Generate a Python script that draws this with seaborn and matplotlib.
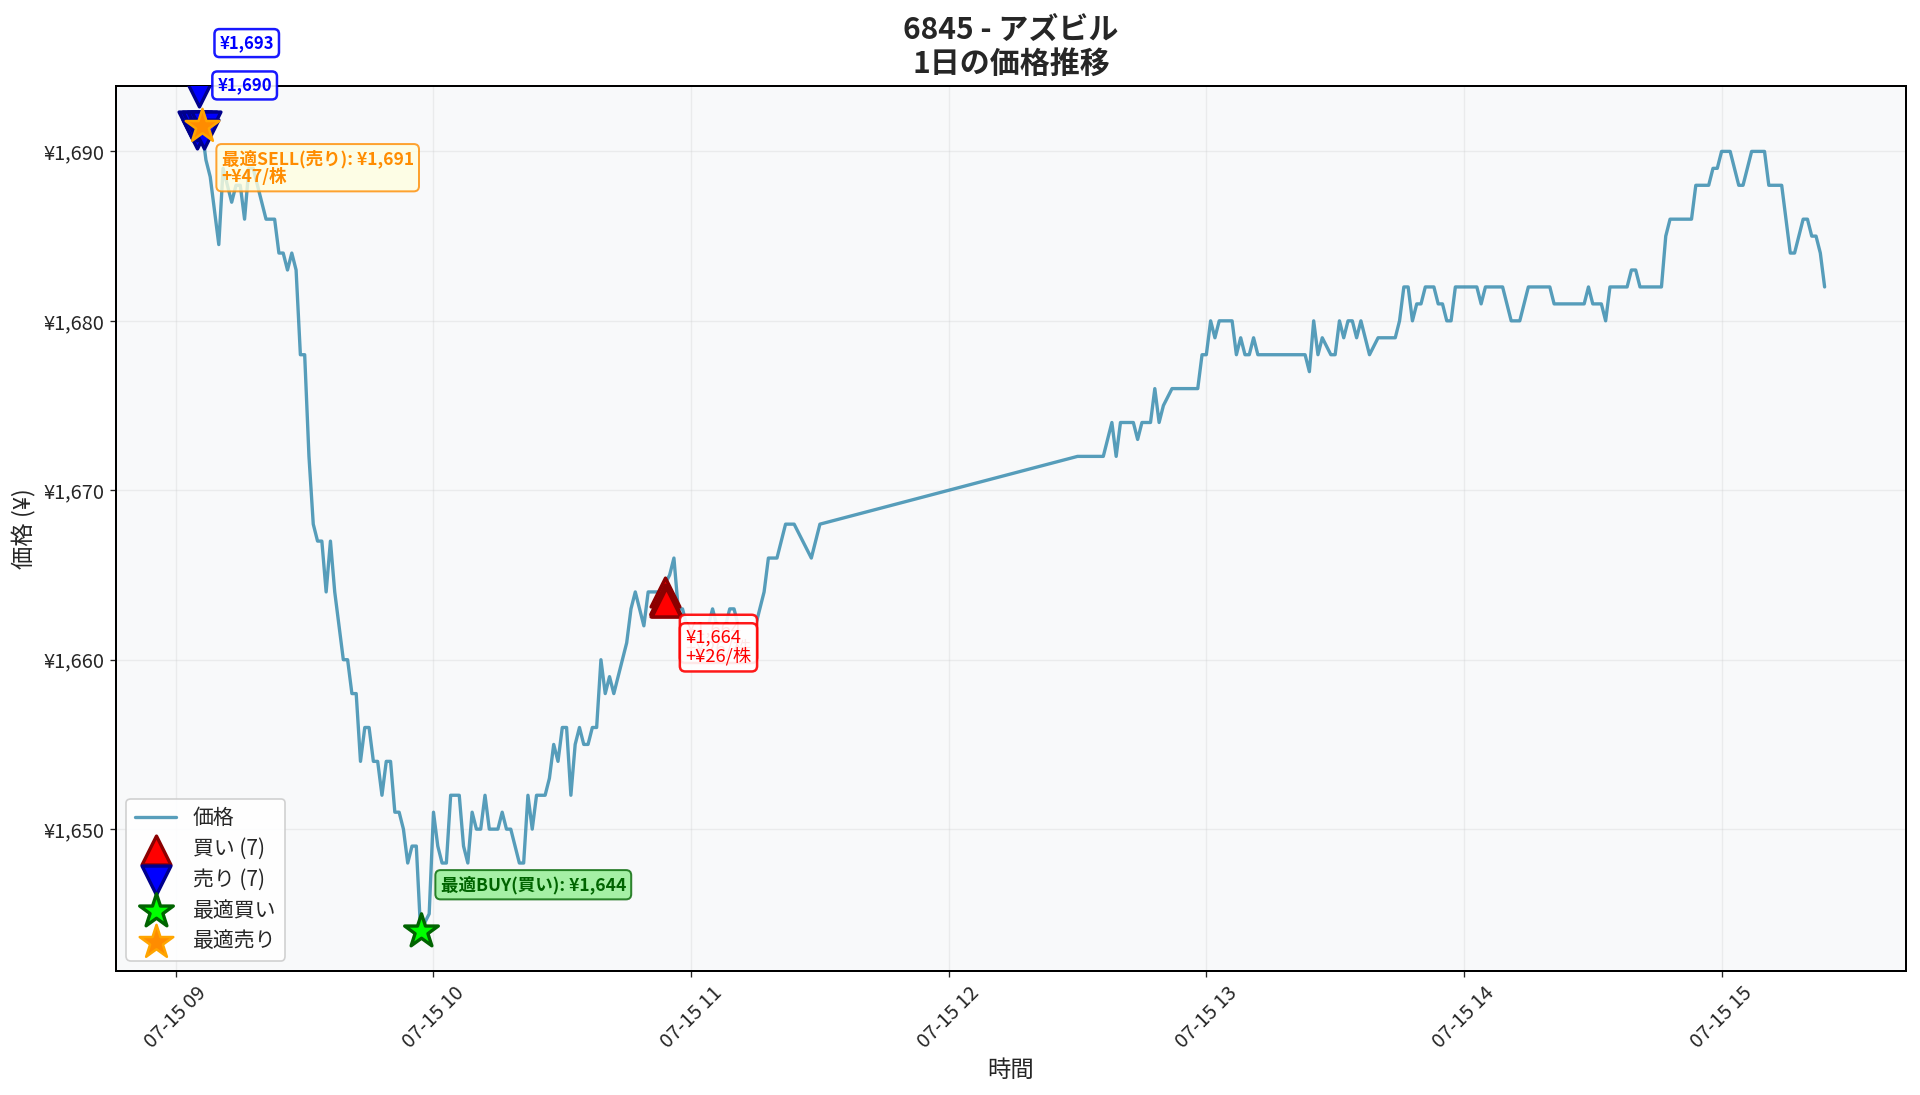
import matplotlib
matplotlib.use("Agg")
import matplotlib.pyplot as plt
import matplotlib.dates as mdates
from matplotlib.ticker import FuncFormatter
import pandas as pd
import seaborn as sns

sns.set_style("ticks")
plt.rcParams['font.family'] = ['Noto Sans CJK JP', 'DejaVu Sans']

########################################################
#   DATA (minute bars, vertices)
########################################################
DAY = "2025-07-15"

price_times = [
    "09:05", "09:06", "09:07", "09:08", "09:10", "09:11", "09:12", "09:13", "09:14", "09:15",
    "09:16", "09:17", "09:18", "09:19", "09:20", "09:21", "09:23", "09:24", "09:25", "09:26",
    "09:27", "09:28", "09:29", "09:30", "09:31", "09:32", "09:33", "09:34", "09:35", "09:36",
    "09:37", "09:38", "09:39", "09:40", "09:41", "09:42", "09:43", "09:44", "09:45", "09:46",
    "09:47", "09:48", "09:49", "09:50", "09:51", "09:52", "09:53", "09:54", "09:55", "09:56",
    "09:57", "09:58", "09:59", "10:00", "10:01", "10:02", "10:03", "10:04", "10:06", "10:07",
    "10:08", "10:09", "10:10", "10:11", "10:12", "10:13", "10:15", "10:16", "10:17", "10:18",
    "10:19", "10:20", "10:21", "10:22", "10:23", "10:24", "10:26", "10:27", "10:28", "10:29",
    "10:30", "10:31", "10:32", "10:33", "10:34", "10:35", "10:36", "10:37", "10:38", "10:39",
    "10:40", "10:41", "10:42", "10:43", "10:44", "10:45", "10:46", "10:47", "10:49", "10:50",
    "10:53", "10:55", "10:56", "10:57", "10:58", "10:59", "11:04", "11:05", "11:06", "11:08",
    "11:09", "11:10", "11:11", "11:15", "11:17", "11:18", "11:20", "11:22", "11:24", "11:28",
    "11:30",
    "12:30", "12:36", "12:38", "12:39", "12:40", "12:43", "12:44", "12:45", "12:47", "12:48",
    "12:49", "12:50", "12:52", "12:58", "12:59", "13:00", "13:01", "13:02", "13:03", "13:06",
    "13:07", "13:08", "13:09", "13:10", "13:11", "13:12", "13:23", "13:24", "13:25", "13:26",
    "13:27", "13:29", "13:30", "13:31", "13:32", "13:33", "13:34", "13:35", "13:36", "13:38",
    "13:40", "13:44", "13:45", "13:46", "13:47", "13:48", "13:49", "13:50", "13:51", "13:53",
    "13:54", "13:55", "13:56", "13:57", "13:58", "14:03", "14:04", "14:05", "14:09", "14:11",
    "14:13", "14:15", "14:20", "14:21", "14:28", "14:29", "14:30", "14:32", "14:33", "14:34",
    "14:38", "14:39", "14:40", "14:41", "14:46", "14:47", "14:48", "14:53", "14:54", "14:57",
    "14:58", "14:59", "15:00", "15:02", "15:04", "15:05", "15:07", "15:10", "15:11", "15:14",
    "15:16", "15:17", "15:19", "15:20", "15:21", "15:22", "15:23", "15:24",
]
price_values = [
    1690.5, 1691.5, 1689.5, 1688.5, 1684.5, 1689, 1688, 1687, 1688, 1688,
    1686, 1689, 1689, 1688, 1687, 1686, 1686, 1684, 1684, 1683,
    1684, 1683, 1678, 1678, 1672, 1668, 1667, 1667, 1664, 1667,
    1664, 1662, 1660, 1660, 1658, 1658, 1654, 1656, 1656, 1654,
    1654, 1652, 1654, 1654, 1651, 1651, 1650, 1648, 1649, 1649,
    1644, 1644.5, 1645, 1651, 1649, 1648, 1648, 1652, 1652, 1649,
    1648, 1651, 1650, 1650, 1652, 1650, 1650, 1651, 1650, 1650,
    1649, 1648, 1648, 1652, 1650, 1652, 1652, 1653, 1655, 1654,
    1656, 1656, 1652, 1655, 1656, 1655, 1655, 1656, 1656, 1660,
    1658, 1659, 1658, 1659, 1660, 1661, 1663, 1664, 1662, 1664,
    1664, 1665, 1666, 1663, 1663, 1662, 1662, 1663, 1662, 1662,
    1663, 1663, 1662, 1662, 1664, 1666, 1666, 1668, 1668, 1666,
    1668,
    1672, 1672, 1674, 1672, 1674, 1674, 1673, 1674, 1674, 1676,
    1674, 1675, 1676, 1676, 1678, 1678, 1680, 1679, 1680, 1680,
    1678, 1679, 1678, 1678, 1679, 1678, 1678, 1677, 1680, 1678,
    1679, 1678, 1678, 1680, 1679, 1680, 1680, 1679, 1680, 1678,
    1679, 1679, 1680, 1682, 1682, 1680, 1681, 1681, 1682, 1682,
    1681, 1681, 1680, 1680, 1682, 1682, 1681, 1682, 1682, 1680,
    1680, 1682, 1682, 1681, 1681, 1682, 1681, 1681, 1680, 1682,
    1682, 1683, 1683, 1682, 1682, 1685, 1686, 1686, 1688, 1688,
    1689, 1689, 1690, 1690, 1688, 1688, 1690, 1690, 1688, 1688,
    1684, 1684, 1686, 1686, 1685, 1685, 1684, 1682,
]

# trades
buy_times = ["10:54", "10:54", "10:53:50", "10:54:10", "10:54", "10:53:55", "10:54:05"]
buy_prices = [1664, 1663.5, 1663.4, 1663.5, 1663.6, 1663.5, 1663.4]
sell_times = ["09:05:30", "09:05", "09:04", "09:05", "09:06", "09:07", "09:06:30"]
sell_prices = [1693.5, 1691, 1691.5, 1691.5, 1691.5, 1691.5, 1691]
sell_labels = ["¥1,693", "¥1,690"]
buy_labels = ["¥1,664\n+¥26/株", "¥1,664\n+¥26/株"]

best_buy_time = "09:57"
best_buy_price = 1644
best_sell_time = "09:06"
best_sell_price = 1691.5
best_buy_text = "最適BUY(買い): ¥1,644"
best_sell_text = "最適SELL(売り): ¥1,691\n+¥47/株"


def to_dt(ts):
    return pd.to_datetime([f"{DAY} {t}" for t in ts], format='mixed')


price_dt = to_dt(price_times)
buy_dt = to_dt(buy_times)
sell_dt = to_dt(sell_times)
bb_dt = to_dt([best_buy_time])
bs_dt = to_dt([best_sell_time])

########################################################
#   PLOT
########################################################
fig, ax = plt.subplots(figsize=(16, 9.125), dpi=120)
fig.subplots_adjust(left=0.0604, right=0.9927, top=0.9217, bottom=0.1132)
ax.set_facecolor('#f8f9fa')

sns.lineplot(x=price_dt, y=price_values, ax=ax, color='#2E86AB', alpha=0.8,
             linewidth=2, label='価格')

sns.scatterplot(x=buy_dt, y=buy_prices, ax=ax, marker='^', s=300, color='red',
                edgecolor='darkred', linewidth=2, zorder=5, label=f'買い ({len(buy_prices)})')
sns.scatterplot(x=sell_dt, y=sell_prices, ax=ax, marker='v', s=300, color='blue',
                edgecolor='darkblue', linewidth=2, zorder=5, label=f'売り ({len(sell_prices)})')
sns.scatterplot(x=bb_dt, y=[best_buy_price], ax=ax, marker='*', s=450, color='lime',
                edgecolor='darkgreen', linewidth=2, zorder=6, label='最適買い')
sns.scatterplot(x=bs_dt, y=[best_sell_price], ax=ax, marker='*', s=450, color='darkorange',
                edgecolor='orange', linewidth=1.5, zorder=6, label='最適売り')

# trade labels
for i, lab in enumerate(sell_labels):
    ax.annotate(lab, (sell_dt[i], sell_prices[i]), xytext=(12, 24), textcoords='offset points',
                ha='left', va='bottom', fontsize=10, fontweight='bold', color='blue',
                bbox=dict(boxstyle='round,pad=0.3', fc='white', ec='blue', lw=1.5, alpha=0.9),
                zorder=7)
for i, lab in enumerate(buy_labels):
    ax.annotate(lab, (buy_dt[i], buy_prices[i]), xytext=(12, -17), textcoords='offset points',
                ha='left', va='top', fontsize=11, color='red', linespacing=1.05,
                bbox=dict(boxstyle='round,pad=0.3', fc='white', ec='red', lw=1.5, alpha=0.9),
                zorder=7)

ax.annotate(best_buy_text, (bb_dt[0], best_buy_price), xytext=(12, 22), textcoords='offset points',
            ha='left', va='bottom', fontsize=10.5, fontweight='bold', color='darkgreen',
            bbox=dict(boxstyle='round,pad=0.3', fc='lightgreen', ec='darkgreen', lw=1.2, alpha=0.8),
            zorder=7)
ax.annotate(best_sell_text, (bs_dt[0], best_sell_price), xytext=(12, -14), textcoords='offset points',
            ha='left', va='top', fontsize=10.5, fontweight='bold', color='darkorange',
            linespacing=1.0,
            bbox=dict(boxstyle='round,pad=0.3', fc='lightyellow', ec='darkorange', lw=1.2, alpha=0.8),
            zorder=7)

# limits from the price line only
lo, hi = min(price_values), max(price_values)
pad = 0.05 * (hi - lo)
ax.set_ylim(lo - pad, hi + pad)
span = price_dt.max() - price_dt.min()
ax.set_xlim(price_dt.min() - 0.05 * span, price_dt.max() + 0.05 * span)

ax.yaxis.set_major_formatter(FuncFormatter(lambda v, p: f'¥{v:,.0f}'))
ax.xaxis.set_major_locator(mdates.HourLocator())
ax.xaxis.set_major_formatter(mdates.DateFormatter('%m-%d %H'))
plt.setp(ax.get_xticklabels(), rotation=45)
ax.tick_params(labelsize=12)

ax.grid(True, alpha=0.3)
for sp in ax.spines.values():
    sp.set_visible(True)
    sp.set_color('black')
    sp.set_linewidth(1.2)

ax.set_title('6845 - アズビル\n1日の価格推移', fontsize=18, fontweight='bold',
             linespacing=1.15, pad=8)
ax.set_xlabel('時間', fontsize=14)
ax.set_ylabel('価格 (¥)', fontsize=14)
ax.legend(loc='lower left', fontsize=12.5, framealpha=0.9, labelspacing=0.42)

fig.savefig('out.png', dpi=120)
